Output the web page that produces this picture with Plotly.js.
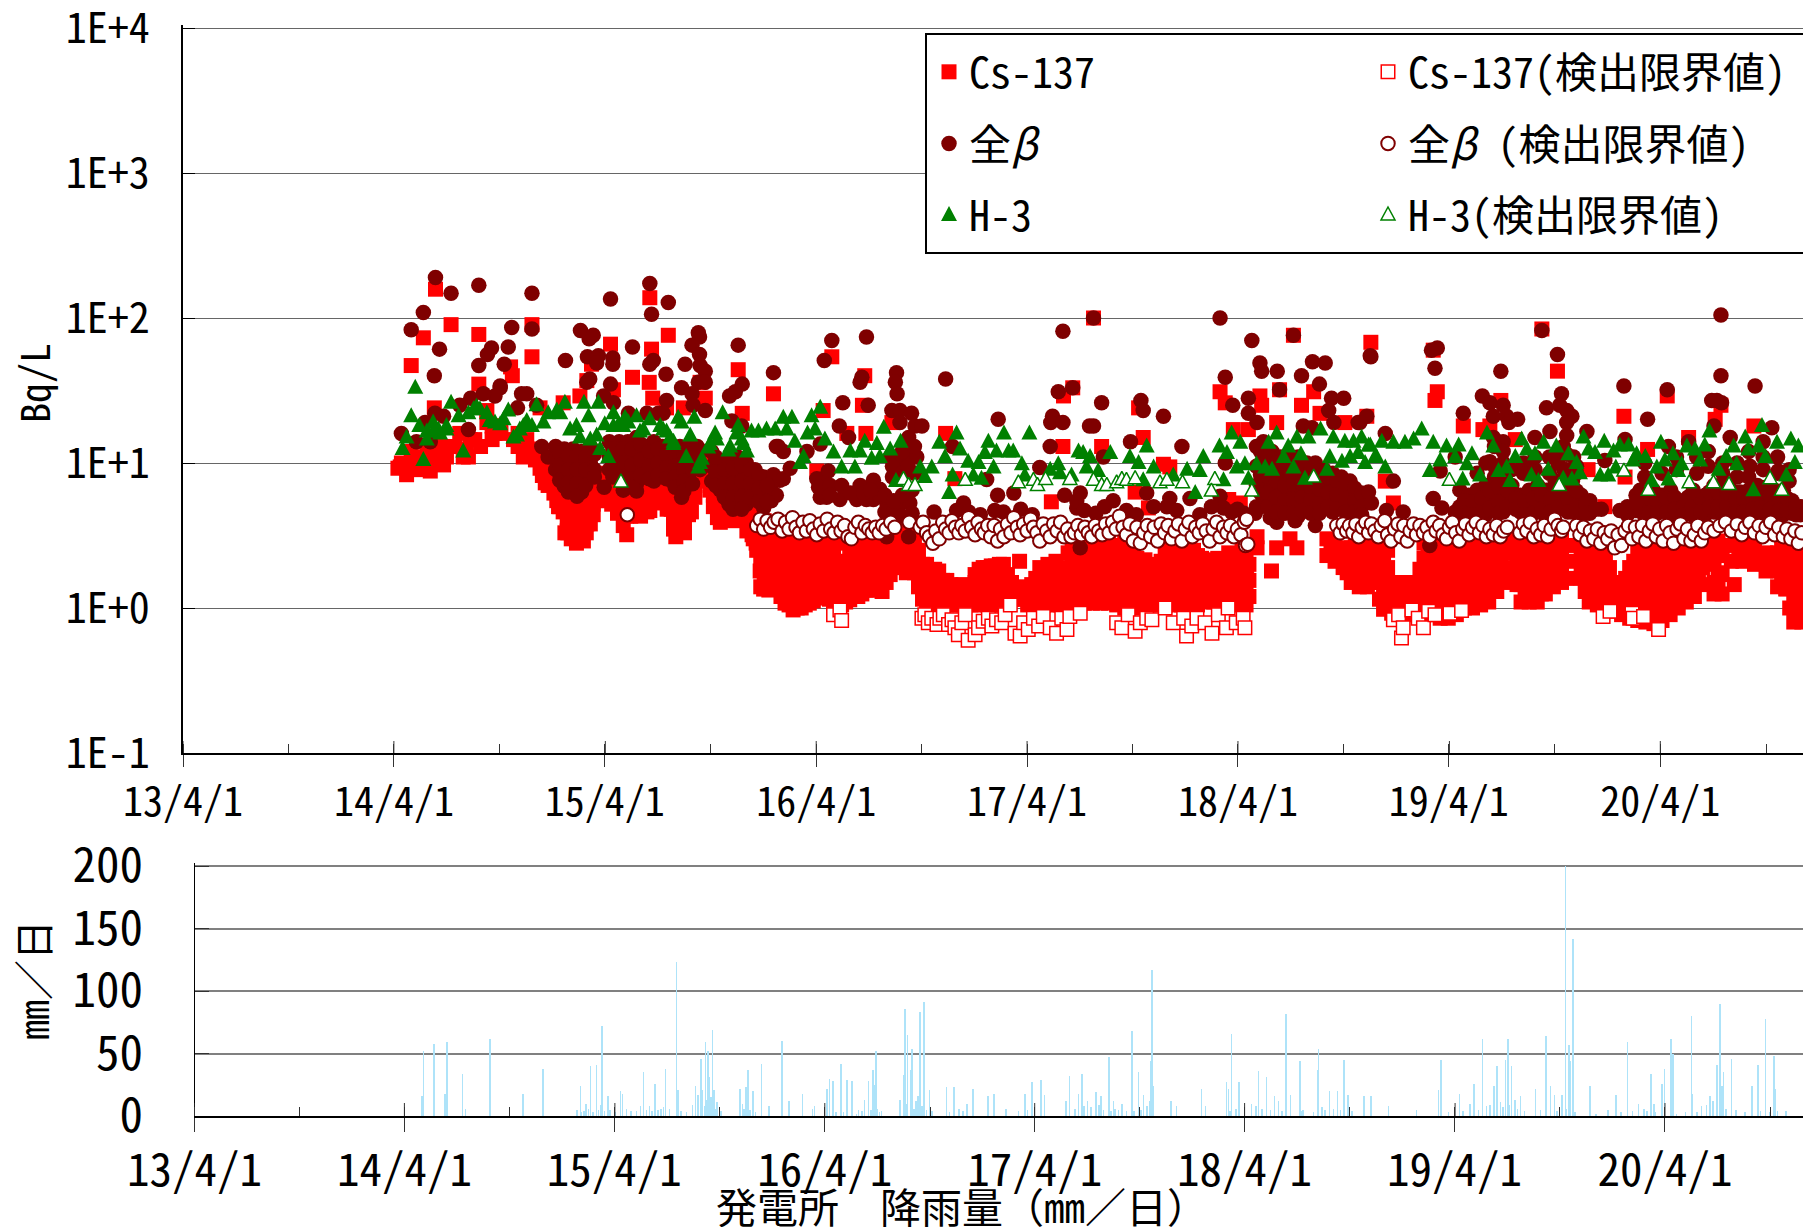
<!DOCTYPE html>
<html><head><meta charset="utf-8">
<script src="https://cdn.plot.ly/plotly-3.0.1.min.js"></script>
<style>html,body{margin:0;padding:0;background:#fff;overflow:hidden}#gd{width:1803px;height:1227px}</style>
</head><body><div id="gd"></div>
<script>
// All rows: [days since 2013-04-01, value, value, ...] (Bq/L or mm/day).
const csScatter=[[437,158],[464,90],[416,73],[395,47],[512,77],[604,90],[604,54],[740,66],[778,39],[811,61],[808,138],[840,76],[807,36],[813,28],[512,35],[567,46],[570,40],[961,44],[1022,30],[968,22],[1123,54],[1180,40],[1176,25],[1182,16],[707,48],[699,37],[687,29],[745,32],[435,24],[526,23],[618,24],[658,26],[866,24],[837,24],[904,28],[895,36],[1108,23],[1097,8.8],[1149,16],
[1320,16],[1523,13],[1590,13],[1662,15],[1697,9.8],[1708,9.4],[1503,5.4],[1648,6.3],[1671,4.9],[1336,7.8],[1227,19],[1576,100],[1795,31],[1804,26],[1864,29],[1867,25],[1898,32],[1936,25],[1957,31],[1968,22],[1818,17],[1844,17],[1893,19],[2011,19],[2049,21],[1922,76],[1524,29],[1540,33],[1654,24],[2056,68],[2164,60],[2352,84],[2379,43],[2171,31],[2167,27],[2216,18],[2250,17],[2262,18],[2281,27],[2569,29],[2494,21],[2652,20],[2662,25],[2719,18],[2606,15],[2535,12.4],[2081,7.5],[2095,5.3],[2432,9],[2496,8],[2461,5],[2306,14.5],[1830,5.3],[1810,5.6],[1859,3.1],[1859,2.6],[1810,2.4],[1884,1.8],[1841,1.9],[1893,2.6],[1928,2.6],[1916,3]];
const csBandEarly=[[376,9.4],[387,8.3],[378,10],[404,9,10.8],[428,8.8,10],[416,11],[451,9.7],[459,13],[456,11],[485,11],[494,11],[505,14.5],[497,14.5],[479,16],[540,16],[526,19],[572,14.5],[589,11],[595,14.5],[618,9.2],[627,7.3],[638,7.3],[647,5.5],[658,4.6],[661,3.3],[681,2.8,4.1],[693,2.9],[673,3.5],[699,3.8],[705,4.8],[664,6.5],[687,5.8],[710,6.1],[728,6.5],[742,5.2],[739,6.1],[768,3.2,4.3,5.7],[803,4.6],[785,5.2],[814,6.2],[831,5.7],[849,3.5,4.4],[860,3.5,5.8],[878,5],[889,7.6],[883,10],[918,5,7.6],[930,3.9],[953,4],[941,5],[976,3.4],[967,4.3],[993,2.5],[999,1.8],[1005,1.35],[987,3],
[640,8],[650,6.5,5],[665,7,5.5,4.2,3.4],[680,7,5.5,4.4,3.4],[695,7,5.5,4.4,3.5],[705,7.5,6,3.8],[715,8,6.5],[730,8.5,7,5.8],[745,8,6.5],[760,8,6.5,5.5],[770,8,6,4.5],[785,7.5,6],[800,8,6.5,5.2],[815,8,6.5],[830,8,6.5,5.5],[845,8,6,4.8],[860,8,6.5,5],[875,9,7,5.5,4.4],[886,12,9,7,5.8],[899,11,9,7.5],[912,10,8,6.5],[925,9,7,5.5,4.2],[940,9,7,5.5,4.4],[955,9,7,5.5,4.2],[970,8,6.5,5],[985,7,5.5,4.2,3.2]];
const csFillEarly=[[372,9.2],[395,9.6,12],[410,10],[422,9.5,12.5],[440,11,13],[470,13],[490,12.5],[515,13],[535,14.5,18],[550,16,18],[580,13,16],[600,12.5],[610,10.5],[622,8.2,11],[632,7,9],[642,6.2,7.5],[652,5,6,7.5],[666,3.3,3.8,4.6,5.7,7.5],[672,3,4,5,6.3],[688,3,3.5,4.4,5.1,6.5],[698,3.3,4.2,5.2,6.5,8],[710,4.4,5.2,7],[720,5.5,7.5],[733,5.5,7.5],[752,4.5,5.5,7.2],[762,3.7,4.7,5.5,7],[775,4.3,5.1,6.5],[792,4.3,5.3,6.5],[808,4.7,5.6,7],[822,5.3,6.5],[838,4.8,5.5,7],[853,3.1,4,5.2,6.5],[868,3.3,4,5,6],[880,4.6,6.2,8],[905,8,10,12],[918,6,9],[935,4.5,5.3,6.5,8],[948,4.6,5.7,7],[962,4.6,6,8],[978,3.8,4.8,6],[992,2.8,3.4,4.3,5.5],[1006,1.6,2.1,2.6,3.2,4],[1021,1.45,1.8,2.3,2.9],[1035,1.2,1.45,1.9,2.35,3],[1049,1.05,1.35,1.7,2.2,2.8],[1063,1,1.3,1.65,2.1,2.7],[1077,1.05,1.35,1.7,2.2,2.9],[1091,1.12,1.3,1.7,2.2,2.9],[1105,1.2,1.35,1.7,2.2,2.8],[1119,1.15,1.3,1.7,2.1,2.8],[1133,1.05,1.25,1.6,2,2.8],[1147,1.1,1.3,1.6,2.1,2.9],[1161,1.2,1.35,1.7,2.2,2.9],[1175,1.25,1.4,1.75,2.2,2.9],[1189,1.33,1.5,1.85,2.4,3],[1203,1.4,1.6,2,2.6,3.2]];
const csBandA=[[1000,5,3.8,2.9,2.2,1.4],[1014,3.4,2.6,2,1.6,1.33],[1028,3.4,2.6,2.1,1.8],[1042,3.4,2.7,2.1,1.6,1.3,1.08],[1056,3.3,2.5,1.9,1.5,1.2,.97],[1070,3.4,2.6,2,1.5,1.2,1],[1084,3.3,2.5,1.9,1.45,1.08],[1098,3.4,2.6,2,1.5,1.17],[1112,3.4,2.5,1.9,1.5,1.2],[1126,3.3,2.5,1.9,1.4,1.08],[1140,3.5,1.7,1.35,1.05],[1154,3.4,2.6,1.9,1.45,1.14],[1168,3.4,2.5,2,1.5,1.2],[1182,3.4,2.6,2,1.6,1.33],[1196,3.5,2.7,2.1,1.7,1.33]];
const csBandB=[[1210,1.3,1.8,2.4,3],[1224,1.7,2.2,2.8,3.4],[1238,1.9,2.5,3.2],[1252,1.75,2.3,3],[1266,1.75,2.3,3],[1280,1.15,1.5,2],[1294,1.05,1.4,1.8],[1308,1.05,1.35,1.8],[1322,1.05,1.3,1.55],[1336,1.05,1.25],[1350,1.05,1.25,1.45],[1364,1.05,1.3],[1378,1.05,1.4,1.85],[1392,1.05,1.45,1.9],[1406,1.05,1.45,1.95],[1420,1.05,1.5,2],[1434,1.15,1.5],[1448,1.15,1.4,2.1],[1462,1.05,1.3],[1476,1.05,1.3,1.6],[1490,1.05,1.4,1.8],[1504,1.05,1.4,1.9],[1518,1.05,1.3,1.7],[1532,1.05,1.35,1.8,2.4],[1546,1,1.3,1.7,2.3,2.9],[1560,1.08,1.4,1.8,2.3,2.8],[1574,1.08,1.4,1.85,2.4,2.9],[1588,1.08,1.45,1.9,2.5],[1602,1.08,1.4,1.8,2.3,2.8],[1616,1.05,1.4,1.85,2.4],[1630,1,1.35,1.8,2.4,2.9],[1644,1,1.4,1.9,2.6],[1658,1.05,1.4,1.85],[1672,1.05,1.45,1.9],[1686,1.05,1.4,1.8],[1700,1.05,1.4,1.9,2.4],[1714,1.05,1.35,1.8,2.3],[1728,1.05,1.4,1.85,2.4],[1742,1.05,1.4,1.9,2.4],[1756,1.05,1.4,1.8,2.3],[1770,1.1,1.5,2],[1784,1.1,1.45,1.9],[1798,1.1,1.5,2],[1812,1.08,1.4,1.9],[1826,1.05,1.4,1.8,2.3],[1840,1.05,1.35,1.75,2.3]];
const csFillB=[[1217,1.5,2.05,2.6,3.2],[1231,1.9,2.4,3],[1245,2,2.7,3.4],[1259,2,2.7,3.3],[1273,1.4,1.7,2.5],[1287,1.1,1.3,1.7,2],[1301,1.15,1.55,1.85],[1315,1.15,1.55],[1329,1.15,1.45],[1343,1.15,1.35],[1357,1.15,1.35],[1371,1.15,1.5,1.7],[1385,1.2,1.6,1.9],[1399,1.2,1.65,1.95],[1413,1.2,1.7,2],[1427,1.25,1.7],[1441,1.25,1.3],[1455,1.15,1.25],[1469,1.15,1.45],[1483,1.15,1.55,1.9],[1497,1.2,1.6,2],[1511,1.2,1.65,2.1],[1525,1.2,1.5,1.9],[1539,1.15,1.55,2.05,2.7],[1553,1.15,1.5,2,2.6],[1567,1.2,1.6,2.05,2.55],[1581,1.2,1.65,2.1,2.7],[1595,1.2,1.6,2.1,2.7],[1609,1.2,1.6,2.05,2.6],[1623,1.2,1.6,2.1,2.7],[1637,1.15,1.55,2.1,2.7],[1651,1.2,1.6,2.2],[1665,1.2,1.65,2.15],[1679,1.2,1.6,2],[1693,1.2,1.6,2.1],[1707,1.2,1.55,2.1,2.6],[1721,1.2,1.6,2,2.5],[1735,1.2,1.6,2.1,2.6],[1749,1.2,1.6,2.1,2.5],[1763,1.25,1.7,2.2],[1777,1.25,1.65,2.15],[1791,1.25,1.7,2.2],[1805,1.2,1.6,2.1],[1819,1.2,1.6,2.05],[1833,1.2,1.55,2,2.5],[1845,1.2,1.55,2]];
const csBandC=[[1980,2.3,3],[1994,2.1,2.8],[2008,1.9,2.6],[2022,1.5,2,2.6],[2036,1.4,1.9,2.5],[2050,1.4,1.9,2.5],[2064,1.5,2,2.7],[2078,.98,1.3,1.7,2.2,2.8],[2092,.92,1.2,1.5],[2106,.9,1.15,1.5],[2120,.9,1.15,1.5],[2134,.9,1.15,1.5],[2148,.9,1.2,1.6,2.2,2.8],[2162,.9,1.2,1.7,2.3,2.9],[2176,.85,1.15,1.6,2.2,2.8],[2190,.85,1.15,1.5],[2204,.9,1.2,1.7,2.4,3],[2218,1,1.3,1.8,2.4,3],[2232,1,1.3,1.8,2.4,3],[2246,1.05,1.4,1.9,2.5],[2260,1.1,1.5,2,2.6],[2274,1.3,1.7,2.2,2.8],[2288,1.5,1.9,2.4,3],[2302,1.8,2.5,3],[2316,1.1,1.45,1.9,2.5],[2330,1.1,1.45,1.9,2.5],[2344,1.1,1.4,1.8,2.4],[2358,1.25,1.6,2.1,2.7],[2372,1.4,1.8,2.3,2.9],[2386,1.5,1.9,2.4,3],[2395,1.6,2.1,2.7],[2420,1.6,2,2.5,3.1],[2434,1.1,1.4,1.8,2.4],[2448,1.05,1.35,1.8,2.4],[2462,1,1.3,1.7,2.3],[2476,.95,1.2,1.5],[2490,.9,1.15,1.45],[2504,.85,1.1,1.4,1.9],[2518,.82,1.05,1.35,1.8,2.4],[2532,.8,1.05,1.35,1.8,2.4],[2546,.78,1,1.35,1.8,2.4],[2560,.82,1.05,1.4,1.9,2.5],[2574,.9,1.15,1.5,2,2.6],[2588,1,1.3,1.7,2.2,2.8],[2602,1.1,1.45,1.9,2.5],[2616,1.2,1.55,2,2.6],[2630,1.45,1.9,2.4,3],[2650,1.25,1.5,2,2.6],[2664,1.25,1.7,2.3],[2685,1.45],[2680,2.1,2.7],[2700,2.1,2.7],[2720,2,2.7],[2740,1.8,2.4],[2760,1.4,1.8,2.4],[2774,1.35,1.8,2.3],[2788,.8,1.1,1.4,1.9,2.5],[2802,.8,1.05,1.4,1.9,2.5]];
const csFillC=[[1987,2.6],[2001,2.4],[2015,1.75,2.3],[2029,1.65,2.2,2.8],[2043,1.65,2.2,2.8],[2057,1.7,2.3],[2071,1.15,1.5,2],[2085,1.05,1.35,1.9,2.5],[2099,1.02,1.3],[2113,1,1.3],[2127,1,1.3],[2141,1.02,1.35,1.85],[2155,1.05,1.4,2,2.6],[2169,1,1.35,1.9,2.5],[2183,1,1.3,1.85,2.5],[2197,1,1.35,2,2.7],[2211,1.1,1.5,2.1,2.7],[2225,1.15,1.55,2.1,2.7],[2239,1.2,1.6,2.15,2.8],[2253,1.3,1.7,2.3,2.9],[2267,1.4,1.9,2.5,3.1],[2281,1.7,2.1,2.7],[2309,1.45,2,2.7],[2323,1.25,1.7,2.2,2.8],[2337,1.25,1.65,2.2,2.8],[2351,1.25,1.6,2.1,2.7],[2365,1.5,1.9,2.5],[2379,1.6,2.1,2.6],[2427,1.3,1.8,2.25,2.8],[2441,1.25,1.6,2.1,2.7],[2455,1.15,1.55,2,2.7],[2469,1.05,1.4,1.9],[2483,1.05,1.3],[2497,1,1.3,1.6],[2511,.95,1.2,1.6,2.1],[2525,.92,1.2,1.55,2.1,2.7],[2539,.9,1.15,1.55,2.1,2.7],[2553,.92,1.2,1.6,2.2,2.8],[2567,1,1.3,1.7,2.3,2.8],[2581,1.15,1.5,2,2.5],[2595,1.25,1.6,2.2,2.8],[2609,1.3,1.7,2.25,2.8],[2623,1.6,2.2,2.8],[2640,2.1,2.8],[2657,1.4,1.75,2.3,2.9],[2693,2.4],[2710,2.35],[2730,2.2],[2750,2.1],[2767,1.6,2.1,2.7],[2781,1,1.6,2.1,2.7],[2795,.95,1.25,1.7,2.2,2.8]];
const csLimit=[[1126,.9],[1137,.97],[1140,.82],[1279,.85],[1284,.9],[1290,.79],[1296,.85],[1305,.77],[1310,.85],[1316,.9],[1325,.77],[1331,.83],[1336,.73],[1342,.655],[1348,.79],[1354,.9],[1359,.6],[1371,.655],[1377,.73],[1385,.81],[1394,.85],[1400,.75],[1408,.83],[1417,.79],[1423,.9],[1432,1.05],[1440,.67],[1449,.64],[1455,.79],[1463,.71],[1472,.85],[1481,.75],[1489,.875],[1501,.73],[1512,.67],[1521,.85],[1530,.71],[1535,.875],[1553,.92],[1616,.79],[1625,.73],[1636,.9],[1648,.69],[1657,.79],[1668,.85],[1677,.83],[1700,1],[1714,.79],[1732,.85],[1737,.64],[1746,.75],[1755,.85],[1769,.79],[1781,.67],[1792,.9],[1806,.73],[1809,1],[1823,.79],[1835,.85],[1838,.73],[2095,.83],[2104,.9],[2109,.62],[2112,.73],[2127,.97],[2138,.85],[2147,.73],[2156,.95],[2167,.9],[2193,.92],[2213,.96],[2458,.875],[2470,.95],[2508,.92],[2510,.85],[2528,.875],[2554,.71]];
const betaScatter=[[437,190],[464,148],[512,168],[604,148],[416,109],[395,83],[444,61],[435,40],[534,62],[527,56],[512,47],[569,86],[563,63],[556,48],[549,34],[604,84],[688,82],[703,72],[710,76],[740,135],[811,106],[808,173],[840,128],[778,63],[662,51],[700,54],[719,55],[716,49],[744,53,48],[808,48],[814,51],[836,41],[892,79],[894,74],[881,65],[894,56],[869,48],[895,47],[904,43],[892,36],[904,36],[863,33],[881,30],[704,38],[699,36],[740,35],[837,27],[586,30],[595,30],[549,33],[540,29],[520,30],[498,28],[479,25],[961,65],[968,35],[956,31],[946,29],[1022,42],[1123,70],[1110,51],[1183,74],[1175,39],[1172,36],[1186,25],[1142,26],[1136,18],[1152,15],[1103,13.5],[1080,12],[1030,13],[1039,12],[967,18],[950,19.5],[904,23],[883,25],[831,22],[803,22],[823,22],[771,22],[745,26],[728,29],[612,25],[579,24],[436,22],[378,16],[404,14],[428,14],[494,17],[419,19],[451,21],
[1795,100],[1576,100],[1523,81],[1850,70],[1922,76],[2055,55],[1864,49],[1867,43],[1894,43],[1804,39],[1320,38],[1936,40],[1955,50],[1977,49],[1967,35],[1898,32],[1235,42],[1233,36],[1236,30],[1515,31],[1540,33],[1590,26],[1658,27],[1662,23],[1697,21],[1844,28],[1817,25],[1844,22],[1859,19],[1988,28],[2009,28],[1983,23],[1992,19],[2049,21],[2034,19],[1411,20],[1505,21],[1502,19],[1523,19],[1569,18],[1576,18],[1227,23],[1241,23],[1261,22],[1241,19],[1267,18],[1279,18],[1332,13],[1729,13],[1640,14],[1501,13],[1804,10],[1939,18],[1954,17.5],[1256,15],[1264,12.4],[1224,11],[1247,10.5],[1270,11],[1593,11],
[1351,5.3],[1410,6],[1438,6.2],[1526,6],[1553,6.2],[1547,4.9,5.5],[1610,5.5],[1668,6.2],[1708,5.7],[1703,5],[1743,5.7],[1391,7.7],[1483,9.3],[1633,4.7],[1405,4.7],[1339,4.7],[1218,5.3],[1241,5.3],[1206,5.9],[1258,5.3],[1256,3.1],[1553,2.6],[1218,3.1],
[2662,105],[2352,82],[2171,62],[2161,60],[2379,56],[2167,45],[2056,54],[2662,40],[2281,43],[2494,34],[2569,32],[2721,34],[2386,30],[2646,27],[2655,27],[2663,26],[2249,29],[2262,26],[2285,25],[2216,22],[2268,21],[2360,24],[2383,25],[2395,23],[2404,21],[2291,21],[2310,20],[2295,19],[2535,20],[2037,19],[2081,16],[2340,15],[2366,16.5],[2430,16.5],[2496,14.5],[2650,18],[2750,17.5],[2678,15],[2735,14],[2606,14],[2571,13],[2461,10.4],[2285,14],[2268,15],[2262,10.2],[2095,7.5],[2052,6.3],[2057,5.3],[2164,5.7],[2179,4.9],[2158,2.7],[2083,4.7],[2112,4.6],[2202,4.6,11],[2176,8.8],[2395,19,15.5],[2389,13],[2407,11],[2712,9.5],[2761,8.8],[2614,6.5],[2522,6.5],[2516,5.4],[2487,4.7],
[2240,8.5],[2255,10],[2270,9.5,13],[2285,10,12],[2300,9],[2320,8.5,10],[2340,9,11],[2365,8.5,11],[2380,10,12],[2395,9,11.5],[2412,8.5,9.5],[2530,8,10],[2560,8.5],[2585,9,11],[2620,8.5,11],[2640,9.5,12],[2665,8.5,10],[2690,8,10],[2710,8,12],[2735,9,11],[2760,8.5,11],[2780,7.5,9],
[1215,4.6,6],[1230,4.6,5.5],[1245,4.3,6],[1262,4.5,6.5],[1228,8,9.5],[1245,8.5,12],[1255,9.5],[1266,8.5,13],[1100,6.8],[1120,7,6],[1140,7],[1155,6.2],[1178,6.2],[1190,6.5],[1300,4.6],[1360,4.6],[1380,4.4],[1420,4.6],[1450,4.8],[1470,4.4],[1560,4.7],[1580,4.5],[1595,5],[1650,4.4],[1680,5],[1720,4.7],[1760,4.4],[1780,5],[1815,4.6],[1825,4.8]];
const betaBand=[[621,13],[632,11],[645,13,10.7,9],[660,12.5,10,8,6.9],[675,12.5,10,8,6.4],[690,12,10,8,6.3],[705,13,10,8],[729,6.8],[738,14,11,9],[751,9.2],[755,14,11,9],[770,14,11,8.5,7.2],[785,15,12,9,7.2,6.4],[800,13,10.5,8.7],[815,14,11,9,7.5],[830,13,10,8.5],[845,13,10.5,8.8,7.6],[860,13,10,8,7],[863,5.8],[875,13,10.5,8],[890,13,10],[915,12,9.5,7.5],[930,10,8,6.5],[945,10.5,8,6.5,5.2],[960,11,8.5,6.5,5.2],[975,10,8,6.5,5.2],[990,9,7.5,6],[1005,8,6,4.9],[1018,7,5.5],
[1027,13,6],[1022,8.3],[1033,7.6],[1039,7.8],[1051,9.2],[1097,7.8],[1108,7.8],[1103,5.8],[1114,5.8],[1117,8.8],[1137,5.6],[1172,7],[1166,5.6],[1183,5.6],[1195,7.6,5.6],[1206,6.6],
[1795,5.9],[1801,4.9],[1836,4.5],[1856,4.5],[1858,13,9.5,7,5],[1870,14,10,7.3,5.3],[1882,4.2],[1885,12,9,7,5.5,4.6],[1893,3.9],[1900,11,8,6,5],[1915,11,8,6.3,5],[1925,4],[1930,11,8.5,6.5,5.3,4.3],[1945,10,7.7,6,5],[1960,10,7.5,6,3.7],[1975,9,7,5.5],[1990,8.5,6.7,5.5,4.6],[2005,8,6.5,5.3],[2020,7.5,6,5],
[2210,6.5,5,4.3],[2225,6,4.8],[2240,6.5,5,4.2],[2255,7,5.3,4.4],[2270,8,6,4.8],[2285,8,6,4.6],[2300,7,5.2],[2315,6,4.6],[2330,6.5,5,4.2],[2345,7,5.5,4.6],[2360,6.5,5,4.2],[2375,7.5,5.7,4.6],[2390,9,6.5,5],[2405,7.5,5.5,4.6],[2420,6,5,4.4],[2435,5.5,4.5],[2455,4.8],[2530,5,4.3],[2545,6.5,5.3],[2560,6,5],[2575,6.5,5.2,4.4],[2590,5.5,4.6],[2605,5.8,4.7],[2620,5.5,4.6],[2635,6,5,4.4],[2650,7,5.5,4.6],[2665,7,5.5,4.5],[2680,6.5,5.2,4.5],[2695,6.3,5,4.5],[2710,6.5,5.2,4.4],[2725,7,5.5,4.5],[2740,6.8,5.4,4.5],[2755,6.5,5.2,4.5],[2770,6.5,5,4.4],[2785,5.5,4.5],[2800,5,4.4]];
const betaFill=[[652,11.7,9.6,7.6],[667,11.2,9,7.3,6.3],[682,11.2,9,7.2,5.9],[697,11,9,7],[712,11.5,9,8],[744,12.5,10,8],[762,12.5,10,8,6.5],[777,12.5,9.7,7.8,6.8],[792,13.5,10.5,8.2],[807,12,9.5,7.8],[822,12.5,10,8.2],[837,11.5,9.2,7.8],[852,11.5,9.5,8,6.8],[867,11.5,9,7.5,6.4],[882,11.5,9,7.2],[895,12,9],[922,11,8.7,7],[937,9,7.2,5.8],[952,9.2,7.2,5.8,4.8],[967,9.7,7.5,5.8,4.8],[982,9,7.2,5.8],[997,8.2,6.7,5.4],[1011,7,5.4],[1865,12,8.3,6.2,5],[1878,11,8.1,6.2,5],[1892,10,7.5,5.8,4.6],[1907,9.5,7,5.5,4.5],[1922,9.5,7.2,5.6,4.5],[1937,9.5,7.2,5.8,4.7],[1952,8.8,6.8,5.5,4.5],[1967,8.8,6.6,5.2,4.5],[1982,8,6.2,5],[1997,7.5,6,4.8],[2012,7,5.7,4.6],[2028,6.7,5.5,4.6],[2040,6.2,5,4.4],[2218,5.5,4.5],[2233,5.4,4.4],[2248,5.7,4.5],[2262,6.4,4.9],[2277,7,5.4,4.5],[2292,6.5,5],[2307,5.7,4.8],[2322,5.4,4.4],[2337,5.7,4.5],[2352,6,4.8],[2367,5.6,4.6],[2382,6.5,5],[2397,7.7,5.7,4.6],[2412,6.4,5],[2428,5.2,4.5],[2445,4.8],[2500,5,4.4],[2515,6,4.7],[2538,5.7,4.5],[2552,5.5,4.5],[2568,5.7,4.6],[2582,5.8,4.8],[2597,5,4.4],[2612,5,4.4],[2627,5.7,4.6],[2642,6.3,5],[2657,6.2,5],[2672,6.2,5],[2688,5.7,4.6],[2702,5.7,4.6],[2717,5.8,4.8],[2732,6.2,4.9],[2747,6,4.8],[2762,5.8,4.7],[2777,5.7,4.7],[2792,5,4.4]];
const betaLimit=[[769,4.4],[993,3.7],[999,4.1],[1005,3.5],[1011,4],[1017,3.6],[1023,3.9],[1030,4.1],[1037,3.4],[1043,3.9],[1049,3.5],[1055,4.2],[1061,3.6],[1067,3.3],[1073,3.9],[1079,3.4],[1085,4],[1091,3.5],[1097,3.2],[1103,3.8],[1109,3.4],[1115,4.1],[1121,3.5],[1127,3.3],[1133,3.9],[1139,3.4],[1145,3.7],[1151,3.1],[1157,3],[1163,3.6],[1169,3.9],[1175,3.3],[1181,3.7],[1187,3.5],[1193,3.3],[1199,3.6],[1205,3.3],[1211,3.7],[1217,3.5],[1225,3.9],[1232,3.6],[1257,3.9],[1276,3.6],[1281,3.9],[1287,3.3],[1292,3.1],[1298,2.8],[1303,3.4],[1309,3],[1315,3.9],[1320,3.5],[1326,3.3],[1331,4],[1337,3.6],[1343,3.3],[1348,3.7],[1354,3.4],[1360,4.2],[1365,3.6],[1371,3.2],[1376,3.9],[1382,3.5],[1387,3.3],[1393,3.7],[1398,3.1],[1404,3.7],[1410,2.9],[1415,3.5],[1421,3.1],[1427,3.8],[1433,3.3],[1438,4.2],[1444,3.6],[1449,3.2],[1455,3.8],[1461,3.4],[1467,4.1],[1472,3.6],[1478,3.3],[1483,2.9],[1489,3.8],[1495,3.4],[1501,3.1],[1507,3.8],[1513,3.4],[1519,3.9],[1525,3.1],[1531,3.5],[1537,3.1],[1543,3.3],[1549,3.7],[1555,3.2],[1561,3.6],[1567,3.3],[1573,3.1],[1579,3.7],[1585,3.4],[1591,3.2],[1597,3.8],[1603,3.3],[1609,3.9],[1615,3.5],[1621,4.3],[1627,3.6],[1633,3.2],[1639,3.8],[1645,2.9],[1651,3.6],[1657,2.8],[1663,3.3],[1669,3.7],[1675,3.1],[1681,3.6],[1687,2.9],[1693,3.8],[1699,3.3],[1705,3.7],[1711,3],[1717,3.4],[1723,3.8],[1729,2.9],[1735,3.5],[1741,3.9],[1747,3.1],[1753,3.6],[1759,3.3],[1765,3.8],[1771,3.4],[1777,2.9],[1783,3.5],[1789,3.9],[1795,3.1],[1801,3.6],[1807,3.3],[1813,3.7],[1819,3.1],[1825,3.5],[1831,3.2],[1837,3.9],[1839,2.7],[1841,4.1],[1843,2.75],[1997,3.7],[2003,3.3],[2008,3.8],[2014,3.4],[2019,3.7],[2025,3.3],[2030,3.8],[2035,3.1],[2041,3.6],[2047,3.9],[2052,3.3],[2057,3.8],[2063,3.4],[2069,3.1],[2074,3.7],[2080,4],[2085,3.2],[2091,2.9],[2097,3.5],[2103,3.8],[2108,3.1],[2113,3.7],[2119,2.9],[2124,3.4],[2130,3.8],[2135,3.2],[2141,3.7],[2147,3.3],[2153,3.6],[2158,3.1],[2164,3.9],[2169,3.4],[2175,3.7],[2181,3.2],[2187,3],[2192,3.6],[2197,3.9],[2203,3.3],[2209,2.9],[2215,3.5],[2220,3.8],[2226,3.2],[2232,3.6],[2238,3.9],[2244,3.3],[2250,3.7],[2256,3.1],[2262,3.5],[2268,3.2],[2274,3.7],[2280,3.1],[2286,3.4],[2292,3.6],[2314,3.3],[2320,3.8],[2326,3.4],[2332,3.9],[2338,3.1],[2344,3.5],[2350,3.2],[2356,3.7],[2362,3.1],[2368,3.5],[2374,4.1],[2380,3.7],[2386,3.4],[2389,3.6],[2412,3.7],[2418,3.2],[2424,3.6],[2430,2.9],[2436,3.4],[2442,3],[2448,3.5],[2454,2.8],[2460,3.3],[2466,3],[2472,3.4],[2478,2.6],[2484,3.2],[2490,2.7],[2496,3.4],[2502,3.7],[2508,3],[2514,3.6],[2520,3.1],[2526,3.7],[2532,2.9],[2538,3.4],[2544,3.8],[2550,3.1],[2556,3.5],[2562,2.9],[2568,3.7],[2574,3.3],[2580,2.8],[2586,3.5],[2592,3.8],[2598,3],[2604,3.5],[2610,2.9],[2616,3.2],[2622,3.7],[2628,2.9],[2634,3.3],[2640,3.6],[2650,3.4],[2660,3.7],[2670,3.9],[2680,3.4],[2690,3.8],[2698,3.2],[2704,3.6],[2712,3.9],[2720,3.3],[2728,3.7],[2734,3.1],[2740,3.6],[2748,3.9],[2755,3.2],[2762,3.6],[2770,3.1],[2776,3.5],[2783,3],[2790,3.4],[2796,2.8],[2802,3.3]];
const h3Solid=[[402,33],[395,21],[380,12.5],[387,15],[409,18],[433,19],[416,10.5],[422,14.5],[445,16],[456,18],[464,26],[477,21],[485,12],[494,22],[508,24.5],[526,22],[540,19],[555,20],[563,23],[572,15],[583,17],[595,19.5],[604,18],[612,25],[624,19],[632,22],[647,23],[653,22],[661,26],[670,17],[681,18],[687,15],[694,26],[702,21],[705,14.5],[716,15.5],[719,26],[722,12.5],[736,11],[730,18.5],[745,22],[754,18.5],[765,20.5],[771,19],[785,21],[797,17],[808,20],[826,18],[837,16.5],[849,14],[857,20.5],[863,19],[871,11],[878,15.5],[885,20.5],[892,9.3],[898,10.7],[909,12.8],[921,16],[934,22],[944,12.2],[958,16],[970,13.5],[976,12],[984,16.5],[996,16.5],[1010,17],[1025,17],[1039,20.5],[1054,20.5],[1045,17],[1059,14],[1074,11],[1068,10],[1081,16],[1088,21],[1094,17],[1103,24],[1111,14.5],[1126,11.8],[1140,9.3],[1155,12],[1163,9.3],[1172,12],[1180,14],[1192,10.7],[1201,13.5],
[422,16.5],[433,16.5],[442,17],[456,17],[503,23.5],[514,23.5],[531,19.5],[549,18.5],[578,15.5],[589,18],[598,18],[745,18],[762,18],[768,19.5],[791,16.5],[831,17],[843,15],[849,13.5],[895,10],[912,13.5],[924,14.5],[947,13],[961,18],[967,14.5],
[1213,17.5],[1224,12.4],[1242,14],[1206,11],[1234,7.5],[1276,9.3],[1296,9.3],[1284,8],[1309,13.8],[1339,16],[1345,12.4],[1319,11],[1332,8.2],[1326,6.2],[1359,10.2],[1377,10],[1368,8.2],[1382,7.8],[1394,14],[1388,11.7],[1403,9.3],[1408,12],[1421,16],[1429,12],[1437,12],[1452,9.8],[1457,8.2],[1465,16],[1501,9],[1515,9.8],[1518,8.5],[1538,8.2],[1550,12],[1558,11.7],[1570,11],[1564,9.3],[1584,8.8],[1605,11.7],[1639,11],[1654,10],[1668,13],[1680,9.3],[1662,7.6],[1714,8.2],[1738,9],[1752,6.2],[1760,8.8],[1766,11],[1794,13],[1807,11.7],[1801,7.6],[1815,16],[1830,13.8],[1824,9.3],[1838,9.8],[1844,7.8],[1858,9.8],[1873,9.3],[1879,13.8],[1893,16],[1885,9],[1905,11],[1913,13],[1922,9.3],[1928,15],[1935,11.5],[1948,15],[1942,7.8],[1969,17],[1980,9],[1985,11],[1991,15],[2006,10.2],[2011,14],[2020,11],[2026,14],[2034,11.7],[2040,15],[2055,13.2],[2066,11],[2046,10],
[2052,13.2],[2063,11],[2075,14],[2081,9.3],[2095,13.8],[2115,13.8],[2130,14.5],[2144,17],[2164,13.8],[2158,8.8],[2176,10.4],[2187,13],[2208,13.2],[2202,11],[2215,7.7],[2222,9.8],[2231,11.5],[2245,8.2],[2257,16],[2268,13],[2277,8.8],[2291,9.3],[2297,7.5],[2306,11],[2317,14.5],[2326,12.4],[2340,11.5],[2355,13.8],[2334,8.2],[2346,7.5],[2363,9],[2377,13],[2389,7.8],[2398,11.5],[2404,7.7],[2412,10],[2418,8.5],[2424,15],[2433,12.4],[2444,11.7],[2453,8.2],[2460,14],[2467,8.2],[2476,12],[2480,9.3],[2487,13.2],[2502,13.2],[2510,10.4],[2516,11.5],[2531,11],[2542,7.5],[2551,9.3],[2558,13.8],[2571,7.7],[2565,10.4],[2579,11.5],[2588,8.8],[2594,9.8],[2603,13],[2617,12.4],[2626,10.4],[2634,13.2],[2642,16.5],[2658,9],[2671,11],[2684,13],[2689,9.8],[2704,15],[2709,12.4],[2727,13],[2718,6.5],[2739,11],[2733,18],[2759,13.8],[2775,8.2],[2783,14.5],[2790,10],[2796,13]];
const h3Limit=[[758,7.4],[1247,7.7],[1256,7],[1267,7],[1354,7.6],[1446,7.3],[1472,7.6],[1479,7],[1493,7.7],[1535,7.7],[1576,7.6],[1590,7],[1599,7],[1616,7.3],[1625,7.7],[1633,7.6],[1648,7.8],[1691,7.3],[1703,7.6],[1730,7.3],[1786,7.7],[1780,6.4],[1850,6.4],[1957,8],[2192,7.6],[2382,7],[2494,8.8],[2536,6.5],[2607,7.3],[2649,7.3],[2676,7.1],[2747,7.8],[2767,6.5]];
const rain=[[397,52],[395,16],[416,58],[438,59],[435,18],[465,34],[470,6],[513,62],[570,18],[605,38],[664,5],[670,24],[680,10],[688,40],[698,41],[708,72],[705,9],[718,16],[740,20],[743,18],[750,6],[775,8],[780,35],[790,8],[800,26],[810,6],[818,38],[825,6],[837,123],[840,21],[865,9],[870,24],[875,17],[880,46],[882,21],[888,59],[892,52],[895,31],[900,69],[902,21],[908,11],[948,22],[952,10],[958,23],[962,37],[970,20],[985,42],[998,8],[1021,60],[1033,12],[1056,18],[1074,6],[1077,8],[1099,22],[1103,30],[1109,28],[1123,42],[1134,29],[1142,28],[1154,5],[1164,13],[1171,28],[1179,37],[1184,52],[1181,25],[1194,4],[1226,13],
[1235,86],[1232,33],[1239,65],[1247,54],[1244,37],[1261,83],[1268,91],[1257,16],[1277,21],[1307,23],[1320,23],[1329,6],[1342,10],[1353,22],[1379,16],[1389,18],[1410,6],[1432,4],[1443,18],[1455,27],[1471,29],[1477,17],[1515,12],[1521,32],[1536,18],[1542,34],[1552,12],[1567,19],[1575,16],[1589,47],[1597,12],[1612,10],[1629,68],[1641,35],[1649,17],[1662,44],[1664,117],[1667,24],[1697,12],[1707,8],[1750,22],[1757,8],[1794,27],[1802,66],[1797,22],[1815,27],[1837,10],[1849,36],[1863,31],[1877,16],[1884,12],[1897,82],[1905,17],[1921,44],[1927,5],[1954,54],[1952,37],[1973,20],[1987,20],[1998,45],[2005,17],[2033,16],[2045,16],[2075,8],[2124,5],[2162,21],[2167,45],[2199,18],[2217,10],[2224,26],[2239,62],[2259,24],[2264,40],[2279,45],[2283,62],[2289,40],[2295,13],[2305,16],[2331,22],[2349,64],[2357,24],[2364,17],[2377,17],[2383,200],[2389,57],[2392,44],[2396,142],[2426,24],[2457,5],[2471,17],[2491,59],[2510,10],[2532,34],[2537,10],[2551,26],[2555,38],[2567,62],[2570,50],[2602,80],[2603,18],[2634,16],[2647,41],[2652,90],[2655,24],[2658,35],[2672,46],[2707,24],[2718,41],[2731,78],[2746,48],[2747,22],[2767,4],
[672,3],[676,4],[684,6],[692,3],[702,5],[712,4],[722,5],[730,3],[758,4],[768,4],[785,5],[795,4],[805,5],[815,7],[845,4],[855,3],[886,8],[890,13],[897,15],[905,6],[915,4],[955,6],[965,5],[975,3],[1110,4],[1115,3],[1128,3],[1150,2],[1160,4],[1175,5],[1186,6],[1190,3],[1238,10],[1250,6],[1254,12],[1264,8],[1272,5],[1282,4],[1312,3],[1335,4],[1448,5],[1460,4],[1530,6],[1546,8],[1558,7],[1572,9],[1580,5],[1593,4],[1600,6],[1606,5],[1620,4],[1633,4],[1645,5],[1655,8],[1660,12],[1800,4],[1810,6],[1825,5],[1845,8],[1855,6],[1870,5],[1890,4],[1925,4],[1945,3],[1960,7],[1965,5],[1980,6],[1992,5],[2012,4],[2180,3],[2205,4],[2232,5],[2246,8],[2252,9],[2270,11],[2274,7],[2285,9],[2300,6],[2312,4],[2340,5],[2368,4],[2385,6],[2400,3],[2436,2],[2480,3],[2500,4],[2520,6],[2525,4],[2540,3],[2576,2],[2592,3],[2612,3],[2620,8],[2628,9],[2640,12],[2662,6],[2680,5],[2695,3],[2722,4],[2738,3],[2752,4]];
const yearTicks=[0,365,731,1096,1461,1826,2192,2557];
const topTickVals=[0.1,1,10,100,1000,10000];
const topTickText=['1E-1','1E+0','1E+1','1E+2','1E+3','1E+4'];

const W=1803,H=1227;
const MONO='"Noto Sans Mono CJK JP","Liberation Mono","Noto Sans CJK JP",monospace';
const START=Date.UTC(2013,3,1);
const dt=d=>new Date(START+d*864e5).toISOString().slice(0,10);
function flat(...tables){const x=[],y=[];tables.forEach(t=>t.forEach(r=>{for(let i=1;i<r.length;i++){x.push(dt(r[0]));y.push(r[i]);}}));return {x,y};}
const px=v=>v/W, py=v=>1-v/H;
const RED='#ff0000',DK='#7f0000',GR='#008000';
function sc(name,data,mk,legend){return {type:'scatter',mode:'markers',name,x:data.x,y:data.y,xaxis:'x',yaxis:'y',marker:mk,legend:legend,legendgroup:name,hoverinfo:'skip'};}
const rainData=flat(rain);
const traces=[
 sc('Cs-137',flat(csBandEarly,csFillEarly,csBandA,csBandB,csFillB,csBandC,csFillC,csScatter),{symbol:'square',size:15,color:RED},'legend'),
 sc('全<i>β</i>',flat(betaBand,betaFill,betaScatter),{symbol:'circle',size:15.5,color:DK},'legend'),
 sc('H-3',flat(h3Solid),{symbol:'triangle-up',size:15,color:GR},'legend'),
 sc('Cs-137(検出限界値)',flat(csLimit),{symbol:'square',size:13.5,color:'#fff',line:{color:RED,width:1.5}},'legend2'),
 sc('全<i>β</i> (検出限界値)',flat(betaLimit),{symbol:'circle',size:13.5,color:'#fff',line:{color:DK,width:2}},'legend2'),
 sc('H-3(検出限界値)',flat(h3Limit),{symbol:'triangle-up',size:13,color:'#fff',line:{color:GR,width:1.5}},'legend2'),
 {type:'bar',x:rainData.x,y:rainData.y,xaxis:'x2',yaxis:'y2',width:864e5,marker:{color:'#aee3f9',line:{width:0}},showlegend:false,hoverinfo:'skip'}
];
const lgFont={family:MONO,size:42,color:'#000'};
const lg=(x)=>({x:px(x),y:py(38),xanchor:'left',yanchor:'top',bgcolor:'rgba(0,0,0,0)',borderwidth:0,font:lgFont,tracegroupgap:14,itemsizing:'trace',traceorder:'grouped',itemclick:false,itemdoubleclick:false});
const xCommon=(tf)=>({type:'date',tick0:'2013-04-01',dtick:'M12',tickformat:'%y/%-m/%-d',showgrid:false,zeroline:false,showline:true,linecolor:'#000',ticks:'outside',tickcolor:'#333',tickwidth:1,tickfont:tf,tickangle:0,
  minor:{ticks:'inside',ticklen:9,tickcolor:'#333',tickwidth:1,dtick:'M6',tick0:'2013-04-01',showgrid:false}});
const layout={width:W,height:H,margin:{l:0,r:0,t:0,b:0},paper_bgcolor:'#fff',plot_bgcolor:'rgba(0,0,0,0)',showlegend:true,font:{family:MONO,color:'#000'},bargap:0,
 xaxis:Object.assign(xCommon({family:MONO,size:40,color:'#000'}),{domain:[px(183),1],range:[dt(0),dt(2804)],anchor:'y',ticklen:12,linewidth:1.5,ticklabelstandoff:1}),
 yaxis:{type:'log',domain:[py(753),py(25)],range:[-1,4.0207],tickmode:'array',tickvals:topTickVals,ticktext:topTickText,showgrid:true,gridcolor:'#666',gridwidth:1,zeroline:false,showline:true,linecolor:'#000',linewidth:1.5,ticks:'inside',ticklen:12,tickcolor:'#000',tickfont:{family:MONO,size:42,color:'#000'},anchor:'x',ticklabelstandoff:23,ticklabeloverflow:'allow'},
 xaxis2:Object.assign(xCommon({family:MONO,size:45,color:'#000'}),{domain:[px(194.5),1],range:[dt(0),dt(2797)],anchor:'y2',ticklen:14,linewidth:2,ticklabelstandoff:0}),
 yaxis2:{domain:[py(1116),py(863)],range:[0,202.4],dtick:50,tick0:0,showgrid:true,gridcolor:'#808080',gridwidth:1.5,zeroline:false,showline:true,linecolor:'#000',linewidth:1,ticks:'inside',ticklen:14,tickcolor:'#333',tickfont:{family:MONO,size:47,color:'#000'},anchor:'x2',ticklabelstandoff:41},
 legend:lg(929),
 legend2:lg(1368),
 shapes:[
  {type:'rect',xref:'paper',yref:'paper',x0:px(926),x1:1.01,y0:py(253),y1:py(34),line:{color:'#000',width:2},fillcolor:'#fff',layer:'above'}
 ].concat(yearTicks.map(d=>({type:'line',xref:'x',yref:'paper',x0:dt(d),x1:dt(d),y0:py(753),y1:py(741),line:{color:'#333',width:1},layer:'above'})))
  .concat(yearTicks.map(d=>({type:'line',xref:'x2',yref:'paper',x0:dt(d),x1:dt(d),y0:py(1116),y1:py(1103),line:{color:'#333',width:1},layer:'above'}))),
 annotations:[
  {xref:'paper',yref:'paper',x:px(33),y:py(383),xanchor:'center',yanchor:'middle',text:'Bq/L',textangle:-90,showarrow:false,font:{family:MONO,size:40,color:'#000'}},
  {xref:'paper',yref:'paper',x:px(32),y:py(980),xanchor:'center',yanchor:'middle',text:'mm／日',textangle:-90,showarrow:false,font:{family:MONO,size:40,color:'#000'}},
  {xref:'paper',yref:'paper',x:px(962),y:py(1205),xanchor:'center',yanchor:'middle',text:'発電所&nbsp;&nbsp;降雨量（mm／日）',showarrow:false,font:{family:MONO,size:41,color:'#000'}}
 ]
};
Plotly.newPlot('gd',traces,layout,{displayModeBar:false,responsive:false}).then(()=>{
  // taller triangle glyphs, same position from Plotly's transform
  document.querySelectorAll('#gd svg path').forEach(p=>{
    const d=p.getAttribute('d')||'';
    if(/^M-[\d.]+,[\d.]+H[\d.]+L0,-[\d.]+Z$/.test(d)){
      const hollow=(p.style.fill||'').indexOf('255, 255, 255')>=0;
      p.setAttribute('d',hollow?'M-7,5H7L0,-8Z':'M-8,6H8L0,-9Z');
    }
  });
});
</script></body></html>
